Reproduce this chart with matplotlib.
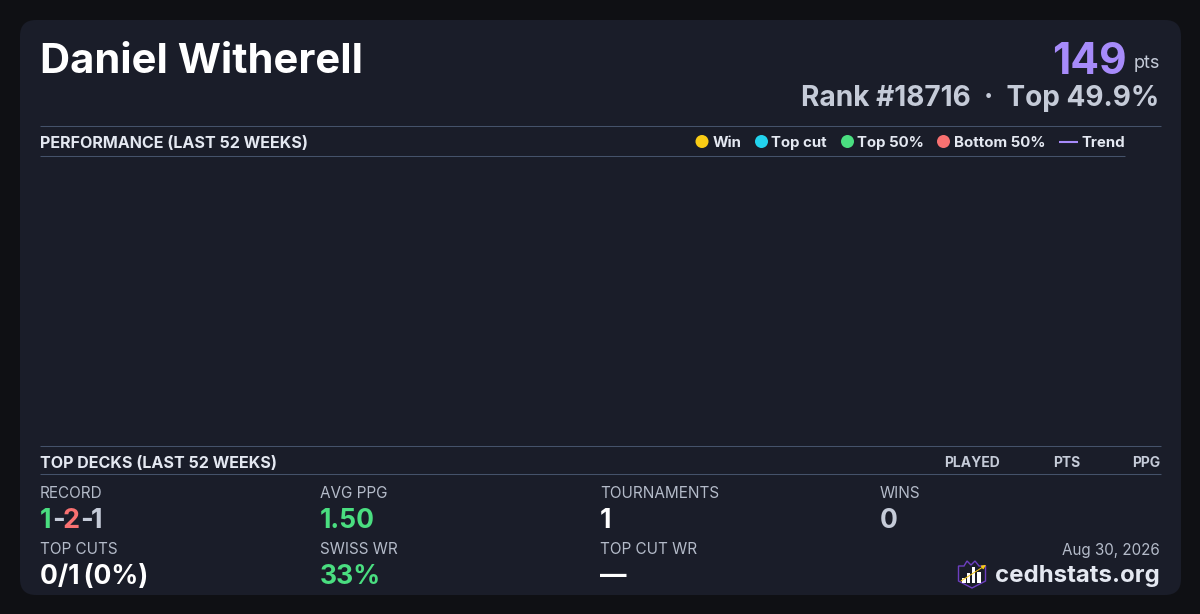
# -*- coding: utf-8 -*-
import matplotlib
matplotlib.use("Agg")
import matplotlib.pyplot as plt
from matplotlib.patches import FancyBboxPatch, Polygon, Circle

plt.rcParams['font.family'] = ['Inter', 'DejaVu Sans']

player = "Daniel Witherell"
points = "149"
rank_text = "Rank #18716  ·  Top 49.9%"
legend_names = ["Win", "Top cut", "Top 50%", "Bottom 50%"]
legend_colors = ["#facc15", "#22d3ee", "#4ade80", "#f87171"]
deck_cols = ["PLAYED", "PTS", "PPG"]
stat_names = ["RECORD", "AVG PPG", "TOURNAMENTS", "WINS",
              "TOP CUTS", "SWISS WR", "TOP CUT WR"]
stat_values = [None, "1.50", "1", "0", "0/1\u2009(0%)", "33%", "—"]
stat_colors = [None, "#4ade80", "#ffffff", "#c5cbd8", "#ffffff", "#4ade80", "#ffffff"]

BG = "#0f1014"
PANEL = "#1a1d29"
LINE = "#45526a"
GREY = "#c5cbd8"
LIGHT = "#e4e8f1"
PURPLE = "#a78bfa"

fig = plt.figure(figsize=(12, 6.14), dpi=100, facecolor=BG)
ax = fig.add_axes([0, 0, 1, 1])
ax.set_xlim(0, 1200)
ax.set_ylim(614, 0)
ax.axis("off")


def txt(x, y, s, px, color, weight="normal", ha="left"):
    return ax.text(x, y, s, fontsize=px * 0.72, color=color, fontweight=weight,
                   ha=ha, va="baseline")


def rule(x0, x1, y):
    ax.plot([x0, x1], [y, y], color=LINE, lw=0.75, solid_capstyle="butt")


ax.add_patch(FancyBboxPatch((36, 36), 1129, 543, boxstyle="round,pad=16,rounding_size=16",
                            fc=PANEL, ec="none"))

# header
txt(40, 73, player, 41.7, "#ffffff", "bold")
txt(1127, 74, points, 42.5, PURPLE, "bold", ha="right")
txt(1160, 68, "pts", 18, GREY, ha="right")
txt(1159.5, 106, rank_text, 28, GREY, "bold", ha="right")

# performance section
rule(40, 1161, 126)
rule(40, 1125, 156)
txt(40, 147.5, "PERFORMANCE (LAST 52 WEEKS)", 16.1, LIGHT, "bold")

dot_x = [702, 761.5, 847.5, 943.5]
label_x = [712.5, 771, 857, 953.5]
for name, col, dx, lx in zip(legend_names, legend_colors, dot_x, label_x):
    ax.add_patch(Circle((dx, 141.5), 6.5, fc=col, ec="none"))
    txt(lx, 147, name, 15, LIGHT, "bold")
ax.plot([1059, 1078], [141.5, 141.5], color=PURPLE, lw=1.5, solid_capstyle="butt")
txt(1081, 147, "Trend", 15, LIGHT, "bold")

# top decks section
rule(40, 1161, 446)
rule(40, 1161, 474)
txt(40, 467.5, "TOP DECKS (LAST 52 WEEKS)", 16.1, LIGHT, "bold")
for name, xr in zip(deck_cols, [1000, 1080, 1160]):
    txt(xr, 467, name, 13.9, GREY, "bold", ha="right")

# stats grid
col_x = [40, 320, 600, 880, 40, 320, 600]
for i, name in enumerate(stat_names):
    base = 497.5 if i < 4 else 553.5
    txt(col_x[i], base, name, 15.3, "#b4bbc9")
    if stat_values[i] is not None:
        txt(col_x[i], base + 30.5, stat_values[i], 26.5, stat_colors[i], "bold")

# coloured record 1-2-1
txt(40, 528, "1", 27, "#4ade80", "bold")
txt(52.5, 528, "-", 27, GREY, "bold")
txt(63, 528, "2", 27, "#f87171", "bold")
txt(80, 528, "-", 27, GREY, "bold")
txt(91, 528, "1", 27, GREY, "bold")

# footer
txt(1160, 555, "Aug 30, 2026", 15.2, "#b4bbc9", ha="right")
txt(1160, 582, "cedhstats.org", 24, LIGHT, "bold", ha="right")

# logo
ax.add_patch(Polygon([(958.5, 566), (964, 566), (967, 561), (971, 565), (975, 561),
                      (979, 566), (985.5, 566), (985.5, 581), (972, 588), (958.5, 581)],
                     closed=True, fc="none", ec="#6d3fc0", lw=1))
for bx, top in zip([962, 966.5, 971.5, 977], [578, 573, 567, 572]):
    ax.add_patch(Polygon([(bx, top), (bx + 3.5, top), (bx + 3.5, 583), (bx, 583)],
                         closed=True, fc="#ffffff", ec="none"))
ax.annotate("", xy=(986, 565), xytext=(961, 581),
            arrowprops=dict(arrowstyle="-|>", color="#facc15", lw=0.7, mutation_scale=6,
                            shrinkA=0, shrinkB=0))

fig.savefig("out.png", dpi=100, facecolor=BG)
